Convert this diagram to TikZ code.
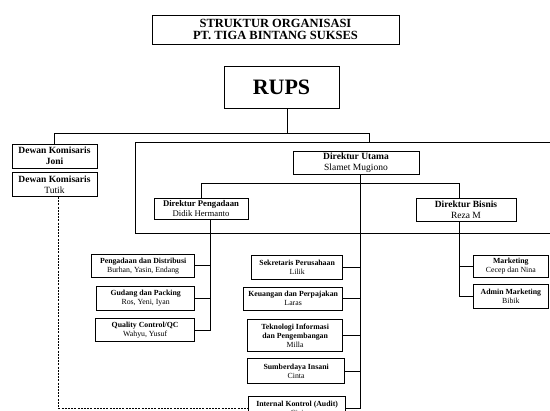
\documentclass[tikz,border=0pt]{standalone}
\usepackage{fontspec}
\setmainfont{Liberation Serif}
\usetikzlibrary{positioning, calc}
\tikzset{
  % plain org-chart box, size given per node
  orgbox/.style={
    rectangle, draw=black, fill=white, line width=0.7pt,
    align=center, inner sep=1pt,
    font=\fontsize{9.5}{11}\selectfont
  },
  % smaller unit box below the directors (optional width)
  unitbox/.style={
    orgbox, font=\fontsize{7.8}{8.8}\selectfont,
    minimum width=#1, minimum height=23pt
  },
  unitbox/.default=97pt,
  link/.style={line width=0.7pt},
  dashlink/.style={line width=0.7pt, dash pattern=on 2pt off 1.2pt}
}

\begin{document}
\begin{tikzpicture}[x=1pt, y=-1pt, node distance=7pt]
  \useasboundingbox (0,0) rectangle (550,411);
  \clip (0,0) rectangle (550,411);

  %% ── Title and RUPS ────────────────────────────────────────────────────────
  \node[orgbox, minimum width=247pt, minimum height=29pt,
        font=\fontsize{12.5}{12.5}\selectfont\bfseries] (title) at (275.5,29.5)
    {STRUKTUR ORGANISASI\\PT. TIGA BINTANG SUKSES};
  \node[orgbox, minimum width=115pt, minimum height=42pt,
        font=\fontsize{22}{22}\selectfont\bfseries] (rups) at (281.5,87) {RUPS};

  %% ── Dewan Komisaris ───────────────────────────────────────────────────────
  \node[orgbox, minimum width=85pt, minimum height=24pt] (joni) at (54.5,156)
    {\textbf{Dewan Komisaris}\\\textbf{Joni}};
  \node[orgbox, minimum width=85pt, minimum height=24pt, below=4pt of joni] (tutik)
    {\textbf{Dewan Komisaris}\\Tutik};

  %% ── Direksi ───────────────────────────────────────────────────────────────
  \node[orgbox, minimum width=126pt, minimum height=23pt] (utama) at (356,162.5)
    {\textbf{Direktur Utama}\\Slamet Mugiono};
  \node[orgbox, minimum width=94pt, minimum height=21pt,
        font=\fontsize{8.7}{10}\selectfont] (pengadaan) at (201,208.5)
    {\textbf{Direktur Pengadaan}\\Didik Hermanto};
  \node[orgbox, minimum width=100pt, minimum height=23pt] (bisnis) at (466,209.5)
    {\textbf{Direktur Bisnis}\\Reza M};

  %% ── Units under Direktur Pengadaan ────────────────────────────────────────
  \node[unitbox=103pt, anchor=north east] (pdist) at (195,254)
    {\textbf{Pengadaan dan Distribusi}\\Burhan, Yasin, Endang};
  \node[unitbox=98pt, minimum height=24pt, below=8pt of pdist.south east, anchor=north east] (gudang)
    {\textbf{Gudang dan Packing}\\Ros, Yeni, Iyan};
  \node[unitbox=99pt, below=8pt of gudang.south east, anchor=north east] (qc)
    {\textbf{Quality Control/QC}\\Wahyu, Yusuf};

  %% ── Units under Direktur Utama ────────────────────────────────────────────
  \node[unitbox=91pt, minimum height=24pt, anchor=north east] (sek) at (343,255)
    {\textbf{Sekretaris Perusahaan}\\Lilik};
  \node[unitbox=99pt, below=7pt of sek.south east, anchor=north east] (keu)
    {\textbf{Keuangan dan Perpajakan}\\Laras};
  \node[unitbox=95pt, minimum height=32pt, below=9pt of keu.south east, anchor=north east] (tek)
    {\textbf{Teknologi Informasi}\\\textbf{dan Pengembangan}\\Milla};
  \node[unitbox=97pt, minimum height=25pt, below=6pt of tek.south east, anchor=north east, xshift=2pt] (sdi)
    {\textbf{Sumberdaya Insani}\\Cinta};
  \node[unitbox=97pt, minimum height=24pt, anchor=north east] (audit) at (346,396)
    {\textbf{Internal Kontrol (Audit)}\\Cici};

  %% ── Units under Direktur Bisnis ───────────────────────────────────────────
  \node[unitbox=75pt, minimum height=22pt, anchor=north west] (mkt) at (473,255)
    {\textbf{Marketing}\\Cecep dan Nina};
  \node[unitbox=75pt, minimum height=24pt, below=6pt of mkt.south west, anchor=north west] (admin)
    {\textbf{Admin Marketing}\\Bibik};

  %% ── Connectors ────────────────────────────────────────────────────────────
  \coordinate (bus) at (369,133);
  \draw[link] ([xshift=5.5pt]rups.south) -- ([xshift=5.5pt]rups.south |- bus);
  \draw[link] (joni.north) |- (bus) -- (369,142);
  \draw[link] (555,142) -| (135,233) -- (555,233);

  \draw[link] (pengadaan.north) -- ++(0,-14) -| ([xshift=-7pt]bisnis.north);

  \coordinate (uspine) at ([xshift=4pt]utama.south);
  \draw[link] (uspine) |- (audit.east);
  \foreach \u in {sek, keu, tek, sdi}
    \draw[link] (\u.east) -- (\u.east -| uspine);

  \coordinate (pspine) at ([xshift=9pt]pengadaan.south);
  \draw[link] (pspine) |- (qc.east);
  \foreach \u in {pdist, gudang}
    \draw[link] (\u.east) -- (\u.east -| pspine);

  \coordinate (bspine) at ([xshift=-7pt]bisnis.south);
  \draw[link] (bspine) |- (admin.west);
  \draw[link] (mkt.west) -- (mkt.west -| bspine);

  \draw[dashlink] ([xshift=4pt]tutik.south) |- (audit.west);

\end{tikzpicture}
\end{document}
